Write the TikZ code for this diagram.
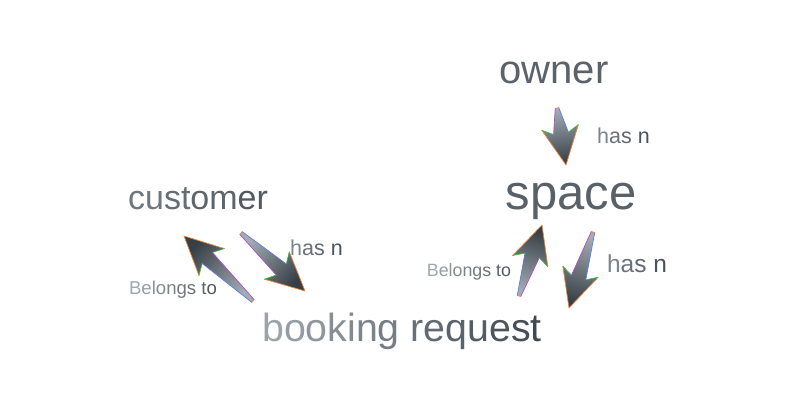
\documentclass[tikz,border=0pt]{standalone}
\usepackage{fontspec}
\setmainfont{Liberation Sans}
\usetikzlibrary{calc}
\definecolor{lt}{HTML}{A9B0B7}
\definecolor{dk}{HTML}{394149}
\definecolor{alt}{HTML}{A4ACB3}
\definecolor{adk}{HTML}{363E46}
\definecolor{etip}{HTML}{F0883A}
\definecolor{ebarb}{HTML}{35C43A}
\definecolor{eside}{HTML}{5B7FE0}
\definecolor{eside2}{HTML}{B04FC8}
\newcommand\gc[2]{\textcolor{dk!#1!lt}{#2}}
\newcommand\fatarrow[4]{%
  \coordinate (#1n) at ($(#3)!32pt!(#2)$);
  \coordinate (#1b) at ($(#3)!38pt!(#2)$);
  \coordinate (#1t1) at ($(#2)!1.8pt!90:(#3)$);
  \coordinate (#1t2) at ($(#2)!1.8pt!-90:(#3)$);
  \coordinate (#1n1) at ($(#1n)!7.5pt!90:(#3)$);
  \coordinate (#1n2) at ($(#1n)!7.5pt!-90:(#3)$);
  \coordinate (#1b1) at ($(#1b)!18.5pt!90:(#3)$);
  \coordinate (#1b2) at ($(#1b)!18.5pt!-90:(#3)$);
  \shade[bottom color=alt, top color=adk, shading angle=#4]
    (#1t1) -- (#1n1) -- (#1b1) -- (#3) -- (#1b2) -- (#1n2) -- (#1t2) -- cycle;
  \draw[edgeline, etip] (#1b1) -- (#3) -- (#1b2);
  \draw[edgeline, ebarb] (#1n1) -- (#1b1) (#1n2) -- (#1b2);
  \draw[edgeline, eside] (#1t1) -- (#1n1);
  \draw[edgeline, eside2] (#1t2) -- (#1n2);
  \draw[edgeline, etip] (#1t1) -- (#1t2);
}
\tikzset{
  edgeline/.style={line width=0.7pt, line join=round, line cap=round},
  lbl/.style={inner sep=0pt, anchor=base},
}
\begin{document}
\begin{tikzpicture}[x=1pt, y=-1pt]
\fill[white] (0,0) rectangle (811,415);
\useasboundingbox (0,0) rectangle (811,415);

% entity labels
\node[lbl, font=\fontsize{40}{48}\selectfont] (owner) at (554,83) {\gc{70}{owner}};
\node[lbl, font=\fontsize{49}{58}\selectfont] (space) at (571,209) {\gc{72}{space}};
\node[lbl, font=\fontsize{34}{41}\selectfont] (customer) at (198,209)
  {\gc{52}{cu}\gc{60}{st}\gc{68}{om}\gc{78}{er}};
\node[lbl, font=\fontsize{39.3}{47}\selectfont] (booking) at (402,341)
  {\gc{12}{b}\gc{18}{o}\gc{24}{o}\gc{30}{k}\gc{35}{i}\gc{40}{n}\gc{46}{g} \gc{58}{r}\gc{64}{e}\gc{70}{q}\gc{76}{u}\gc{82}{e}\gc{88}{s}\gc{94}{t}};

% edge labels
\node[lbl, font=\fontsize{21.5}{26}\selectfont] (hasL) at (316.5,255)
  {\gc{40}{h}\gc{55}{a}\gc{65}{s} \gc{85}{n}};
\node[lbl, font=\fontsize{18.6}{22}\selectfont] (belL) at (173,294)
  {\gc{8}{B}\gc{18}{e}\gc{26}{l}\gc{34}{o}\gc{42}{n}\gc{50}{g}\gc{58}{s} \gc{70}{t}\gc{78}{o}};
\node[lbl, font=\fontsize{17.8}{21}\selectfont] (belR) at (469,276)
  {\gc{8}{B}\gc{18}{e}\gc{26}{l}\gc{34}{o}\gc{42}{n}\gc{50}{g}\gc{58}{s} \gc{70}{t}\gc{78}{o}};
\node[lbl, font=\fontsize{24.5}{29}\selectfont] (hasR) at (637,272)
  {\gc{40}{h}\gc{55}{a}\gc{65}{s} \gc{85}{n}};
\node[lbl, font=\fontsize{21.5}{26}\selectfont] (hasT) at (623.5,143)
  {\gc{40}{h}\gc{55}{a}\gc{65}{s} \gc{85}{n}};

% arrow end points
\coordinate (AT) at (253,301); \coordinate (AP) at (184,236);
\coordinate (BT) at (241,233); \coordinate (BP) at (305,291);
\coordinate (CT) at (557,108); \coordinate (CP) at (566,165);
\coordinate (DT) at (519,296); \coordinate (DP) at (542,225);
\coordinate (ET) at (593,232); \coordinate (EP) at (569,308);

\fatarrow{A}{AT}{AP}{46.7}
\fatarrow{B}{BT}{BP}{-132.2}
\fatarrow{C}{CT}{CP}{-171}
\fatarrow{D}{DT}{DP}{-18}
\fatarrow{E}{ET}{EP}{162.3}
\end{tikzpicture}
\end{document}
